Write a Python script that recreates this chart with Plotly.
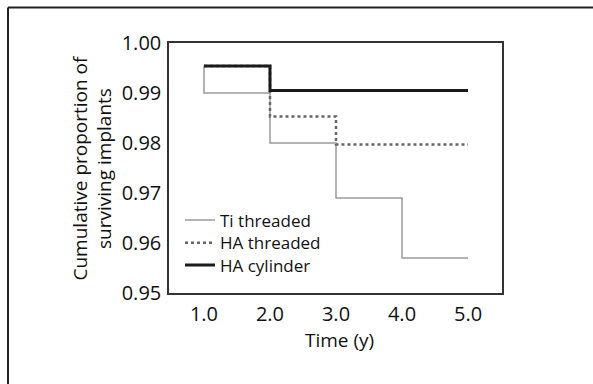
import plotly.graph_objects as go

W, H = 593, 384
L, R, T, B = 169, 91, 43, 91

years_ti = [1, 1, 2, 3, 4, 5]
surv_ti = [0.9954, 0.990, 0.980, 0.969, 0.957, 0.957]
years_hat = [1, 2, 3, 5]
surv_hat = [0.9954, 0.9853, 0.9797, 0.9797]
years_hac = [1, 2, 5]
surv_hac = [0.9954, 0.9905, 0.9905]

y_ticks = [0.95, 0.96, 0.97, 0.98, 0.99, 1.00]
y_ticktext = ["0.95", "0.96", "0.97", "0.98", "0.99", "1.00"]
x_ticks = [1, 2, 3, 4, 5]
x_ticktext = ["1.0", "2.0", "3.0", "4.0", "5.0"]

FONT = "Open Sans, Liberation Sans, Arial, sans-serif"
TXT = "#111111"


def px_x(p):
    return (p - L) / (W - L - R)


def px_y(p):
    return (H - B - p) / (H - T - B)


fig = go.Figure()
fig.add_trace(go.Scatter(x=years_ti, y=surv_ti, mode="lines", line_shape="hv",
                         name="Ti threaded", legend="legend",
                         line=dict(color="#9a9a9a", width=1.5)))
fig.add_trace(go.Scatter(x=years_hat, y=surv_hat, mode="lines", line_shape="hv",
                         name="HA threaded", legend="legend2",
                         line=dict(color="#666666", width=2.5, dash="dot")))
fig.add_trace(go.Scatter(x=years_hac, y=surv_hac, mode="lines", line_shape="hv",
                         name="HA cylinder", legend="legend3",
                         line=dict(color="#1a1a1a", width=3)))

leg_common = dict(x=px_x(180), xanchor="left", yanchor="middle",
                  bgcolor="rgba(0,0,0,0)", borderwidth=0,
                  font=dict(size=17, color=TXT))

fig.update_layout(
    width=W, height=H,
    margin=dict(l=L, r=R, t=T, b=B),
    paper_bgcolor="white", plot_bgcolor="white",
    font=dict(family=FONT, size=19, color=TXT),
    showlegend=True,
    legend=dict(leg_common, y=px_y(220.5)),
    legend2=dict(leg_common, y=px_y(243.3)),
    legend3=dict(leg_common, y=px_y(265.5)),
    xaxis=dict(range=[0.47, 5.515], tickvals=x_ticks, ticktext=x_ticktext,
               showgrid=False, zeroline=False, showline=True, mirror=True,
               linecolor="#333333", linewidth=1.5, ticks="outside", ticklen=2,
               tickcolor="rgba(0,0,0,0)", tickfont=dict(size=20)),
    yaxis=dict(range=[0.95, 1.00], tickvals=y_ticks, ticktext=y_ticktext,
               showgrid=False, zeroline=False, showline=True, mirror=True,
               linecolor="#333333", linewidth=1.5, ticks="outside", ticklen=2,
               tickcolor="rgba(0,0,0,0)", tickfont=dict(size=20)),
    annotations=[
        dict(text="Cumulative proportion of<br>surviving implants",
             xref="paper", yref="paper", x=px_x(91.5), y=0.5,
             xanchor="center", yanchor="middle", textangle=-90,
             showarrow=False, font=dict(size=19, color=TXT)),
        dict(text="Time (y)", xref="paper", yref="paper",
             x=px_x(339), y=px_y(340), xanchor="center", yanchor="middle",
             showarrow=False, font=dict(size=19, color=TXT)),
    ],
    shapes=[
        dict(type="line", xref="paper", yref="paper", x0=px_x(8), x1=px_x(8),
             y0=px_y(7.5), y1=px_y(400), line=dict(color="#222222", width=2)),
        dict(type="line", xref="paper", yref="paper", x0=px_x(8), x1=px_x(600),
             y0=px_y(7.5), y1=px_y(7.5), line=dict(color="#222222", width=2)),
    ],
)

fig.write_html("out.html")
